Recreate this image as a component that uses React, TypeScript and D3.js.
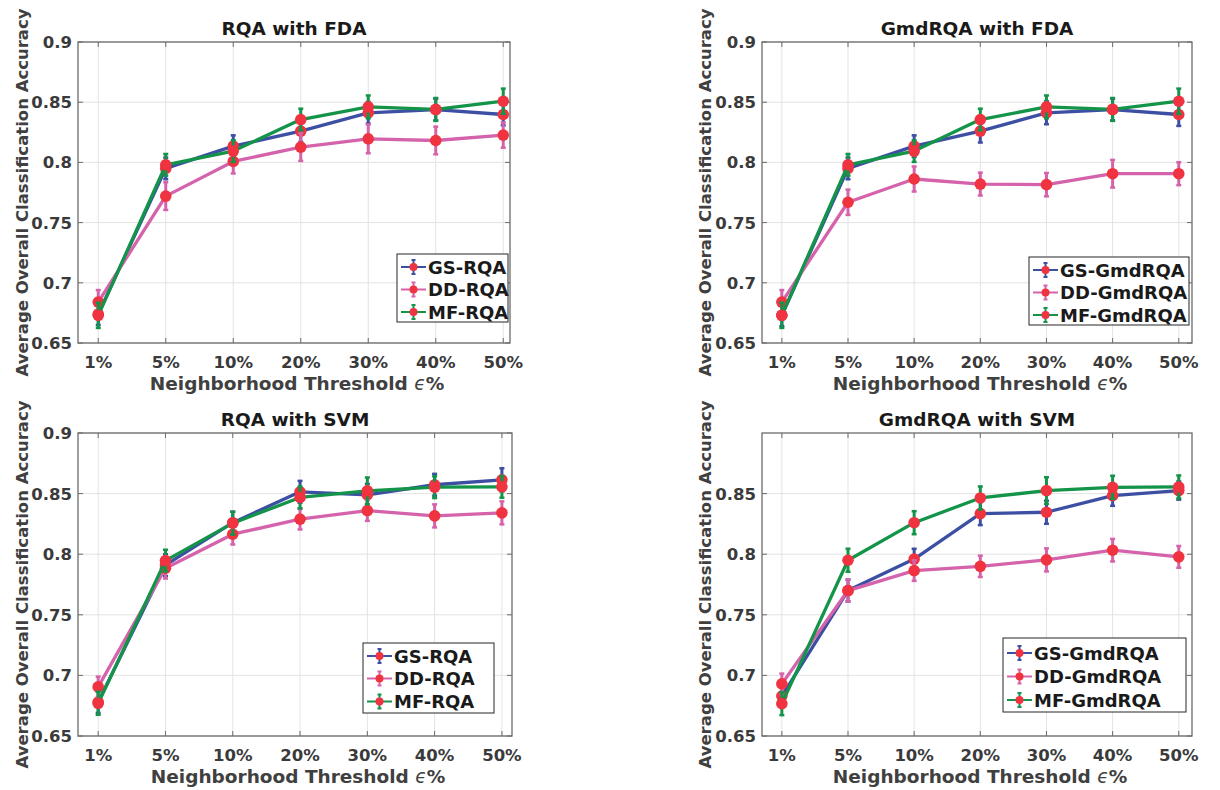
import React from "react";
import * as d3 from "d3";

const categories = ["1%", "5%", "10%", "20%", "30%", "40%", "50%"];

// Panel 1: RQA with FDA
const gsRqaFda = [0.674, 0.795, 0.8135, 0.826, 0.8412, 0.8439, 0.8398];
const ddRqaFda = [0.684, 0.772, 0.8008, 0.8127, 0.8196, 0.8182, 0.8227];
const mfRqaFda = [0.673, 0.798, 0.8094, 0.8356, 0.8461, 0.844, 0.8508];
const gsRqaFdaErr = [0.009, 0.009, 0.009, 0.009, 0.009, 0.009, 0.009];
const ddRqaFdaErr = [0.01, 0.0115, 0.01, 0.0115, 0.012, 0.0115, 0.0105];
const mfRqaFdaErr = [0.0105, 0.009, 0.009, 0.009, 0.0095, 0.0095, 0.0105];

// Panel 2: GmdRQA with FDA
const gsGmdFda = [0.673, 0.795, 0.8135, 0.826, 0.8412, 0.8439, 0.8398];
const ddGmdFda = [0.684, 0.7669, 0.7862, 0.782, 0.7815, 0.7906, 0.7906];
const mfGmdFda = [0.673, 0.798, 0.8094, 0.8356, 0.8461, 0.844, 0.8508];
const gsGmdFdaErr = [0.009, 0.009, 0.009, 0.0095, 0.0095, 0.009, 0.0095];
const ddGmdFdaErr = [0.01, 0.0105, 0.0104, 0.0095, 0.0097, 0.0115, 0.0095];
const mfGmdFdaErr = [0.0105, 0.009, 0.009, 0.009, 0.0095, 0.0095, 0.0105];

// Panel 3: RQA with SVM
const gsRqaSvm = [0.678, 0.791, 0.826, 0.8515, 0.849, 0.8573, 0.8614];
const ddRqaSvm = [0.6905, 0.7884, 0.8165, 0.8289, 0.836, 0.8316, 0.8341];
const mfRqaSvm = [0.677, 0.7947, 0.8256, 0.8468, 0.8523, 0.8553, 0.8556];
const gsRqaSvmErr = [0.009, 0.009, 0.009, 0.009, 0.009, 0.009, 0.0095];
const ddRqaSvmErr = [0.0085, 0.0085, 0.0085, 0.0085, 0.0085, 0.0095, 0.0095];
const mfRqaSvmErr = [0.0095, 0.009, 0.0095, 0.009, 0.011, 0.009, 0.009];

// Panel 4: GmdRQA with SVM
const gsGmdSvm = [0.683, 0.77, 0.796, 0.8335, 0.8346, 0.8484, 0.8525];
const ddGmdSvm = [0.693, 0.77, 0.7865, 0.79, 0.7953, 0.8033, 0.7978];
const mfGmdSvm = [0.6767, 0.795, 0.826, 0.8464, 0.8525, 0.8552, 0.8555];
const gsGmdSvmErr = [0.009, 0.009, 0.0085, 0.0095, 0.0095, 0.0085, 0.0075];
const ddGmdSvmErr = [0.0085, 0.009, 0.0085, 0.0088, 0.0095, 0.0093, 0.009];
const mfGmdSvmErr = [0.0095, 0.0095, 0.0095, 0.0095, 0.011, 0.0095, 0.0095];

const yTicksFull = [0.65, 0.7, 0.75, 0.8, 0.85, 0.9];
const yTicksNoTop = [0.65, 0.7, 0.75, 0.8, 0.85];

const BLUE = "#3c4fa3";
const PINK = "#d563ab";
const GREEN = "#139449";
const RED = "#ef3340";
const FONT = "'DejaVu Sans', sans-serif";

type Series = { name: string; color: string; values: number[]; err: number[] };

type Panel = {
  title: string;
  left: number;
  right: number;
  top: number;
  bottom: number;
  xDomain: [number, number];
  yTicks: number[];
  series: Series[];
  legend: { x: number; y: number; w: number; h: number; rows: number[] };
  ylabelX: number;
};

const panels: Panel[] = [
  {
    title: "RQA with FDA",
    left: 78, right: 510, top: 42, bottom: 343,
    xDomain: [-0.3, 6.1],
    yTicks: yTicksFull,
    series: [
      { name: "GS-RQA", color: BLUE, values: gsRqaFda, err: gsRqaFdaErr },
      { name: "DD-RQA", color: PINK, values: ddRqaFda, err: ddRqaFdaErr },
      { name: "MF-RQA", color: GREEN, values: mfRqaFda, err: mfRqaFdaErr },
    ],
    legend: { x: 397, y: 254, w: 111, h: 68, rows: [267, 289.5, 312] },
    ylabelX: 22,
  },
  {
    title: "GmdRQA with FDA",
    left: 762, right: 1192, top: 42, bottom: 343,
    xDomain: [-0.3, 6.2],
    yTicks: yTicksFull,
    series: [
      { name: "GS-GmdRQA", color: BLUE, values: gsGmdFda, err: gsGmdFdaErr },
      { name: "DD-GmdRQA", color: PINK, values: ddGmdFda, err: ddGmdFdaErr },
      { name: "MF-GmdRQA", color: GREEN, values: mfGmdFda, err: mfGmdFdaErr },
    ],
    legend: { x: 1029, y: 257, w: 160, h: 68, rows: [270, 292.5, 315] },
    ylabelX: 705,
  },
  {
    title: "RQA with SVM",
    left: 78, right: 512, top: 433, bottom: 736,
    xDomain: [-0.3, 6.15],
    yTicks: yTicksFull,
    series: [
      { name: "GS-RQA", color: BLUE, values: gsRqaSvm, err: gsRqaSvmErr },
      { name: "DD-RQA", color: PINK, values: ddRqaSvm, err: ddRqaSvmErr },
      { name: "MF-RQA", color: GREEN, values: mfRqaSvm, err: mfRqaSvmErr },
    ],
    legend: { x: 363, y: 643, w: 131, h: 70, rows: [656, 678.5, 701.5] },
    ylabelX: 22,
  },
  {
    title: "GmdRQA with SVM",
    left: 762, right: 1192, top: 433, bottom: 736,
    xDomain: [-0.3, 6.2],
    yTicks: yTicksNoTop,
    series: [
      { name: "GS-GmdRQA", color: BLUE, values: gsGmdSvm, err: gsGmdSvmErr },
      { name: "DD-GmdRQA", color: PINK, values: ddGmdSvm, err: ddGmdSvmErr },
      { name: "MF-GmdRQA", color: GREEN, values: mfGmdSvm, err: mfGmdSvmErr },
    ],
    legend: { x: 1003, y: 638, w: 183, h: 74, rows: [653, 676.5, 700] },
    ylabelX: 705,
  },
];

function PanelChart({ p }: { p: Panel }) {
  const x = d3.scaleLinear().domain(p.xDomain).range([p.left, p.right]);
  const y = d3.scaleLinear().domain([0.65, 0.9]).range([p.bottom, p.top]);
  const line = d3
    .line<number>()
    .x((_, i) => x(i))
    .y((v) => y(v));
  const cx = (p.left + p.right) / 2;
  const cy = (p.top + p.bottom) / 2;
  const tickLen = 5;
  const cap = 2.5;
  return (
    <g>
      {categories.map((_, i) => (
        <line key={"gx" + i} x1={x(i)} x2={x(i)} y1={p.top} y2={p.bottom} stroke="#e3e3e3" strokeWidth={1} />
      ))}
      {p.yTicks.map((t) => (
        <line key={"gy" + t} x1={p.left} x2={p.right} y1={y(t)} y2={y(t)} stroke="#e3e3e3" strokeWidth={1} />
      ))}
      <rect x={p.left} y={p.top} width={p.right - p.left} height={p.bottom - p.top} fill="none" stroke="#6b6b6b" strokeWidth={1.3} />
      {categories.map((_, i) => (
        <g key={"tx" + i}>
          <line x1={x(i)} x2={x(i)} y1={p.bottom} y2={p.bottom - tickLen} stroke="#6b6b6b" />
          <line x1={x(i)} x2={x(i)} y1={p.top} y2={p.top + tickLen} stroke="#6b6b6b" />
        </g>
      ))}
      {p.yTicks.map((t) => (
        <g key={"ty" + t}>
          <line x1={p.left} x2={p.left + tickLen} y1={y(t)} y2={y(t)} stroke="#6b6b6b" />
          <line x1={p.right} x2={p.right - tickLen} y1={y(t)} y2={y(t)} stroke="#6b6b6b" />
        </g>
      ))}
      {categories.map((c, i) => (
        <text key={"lx" + i} x={x(i)} y={p.bottom + 24.5} textAnchor="middle" fontFamily={FONT} fontWeight="bold" fontSize={16.5} fill="#3a3a3a">
          {c}
        </text>
      ))}
      {p.yTicks.map((t) => (
        <text key={"ly" + t} x={p.left - 6} y={y(t) + 6} textAnchor="end" fontFamily={FONT} fontWeight="bold" fontSize={16.5} fill="#3a3a3a">
          {d3.format("")(t)}
        </text>
      ))}
      <text x={cx} y={p.top - 7} textAnchor="middle" fontFamily={FONT} fontWeight="bold" fontSize={18.5} fill="#1a1a1a">
        {p.title}
      </text>
      <text x={cx + 3} y={p.bottom + 46.5} textAnchor="middle" fontFamily={FONT} fontWeight="bold" fontSize={18.5} fill="#404040">
        Neighborhood Threshold <tspan fontStyle="italic" fontWeight="normal">ϵ</tspan>%
      </text>
      <text
        transform={`translate(${p.ylabelX + 6},${cy}) rotate(-90)`}
        textAnchor="middle"
        fontFamily={FONT}
        fontWeight="bold"
        fontSize={16.5}
        fill="#404040"
      >
        Average Overall Classification Accuracy
      </text>
      {p.series.map((s) => (
        <g key={s.name}>
          {s.values.map((v, i) => (
            <g key={"e" + i}>
              <line x1={x(i)} x2={x(i)} y1={y(v - s.err[i])} y2={y(v + s.err[i])} stroke={s.color} strokeWidth={3} />
              <line x1={x(i) - cap} x2={x(i) + cap} y1={y(v - s.err[i])} y2={y(v - s.err[i])} stroke={s.color} strokeWidth={2.5} />
              <line x1={x(i) - cap} x2={x(i) + cap} y1={y(v + s.err[i])} y2={y(v + s.err[i])} stroke={s.color} strokeWidth={2.5} />
            </g>
          ))}
          <path d={line(s.values) || ""} fill="none" stroke={s.color} strokeWidth={3.3} strokeLinejoin="round" />
          {s.values.map((v, i) => (
            <circle key={"m" + i} cx={x(i)} cy={y(v)} r={5.8} fill={RED} />
          ))}
        </g>
      ))}
      <rect x={p.legend.x} y={p.legend.y} width={p.legend.w} height={p.legend.h} fill="#ffffff" stroke="#262626" strokeWidth={1} />
      {p.series.map((s, k) => {
        const ry = p.legend.rows[k];
        const lx0 = p.legend.x + 4;
        const lx1 = lx0 + 25;
        const lm = (lx0 + lx1) / 2;
        return (
          <g key={"lg" + k}>
            <line x1={lx0} x2={lx1} y1={ry} y2={ry} stroke={s.color} strokeWidth={2} />
            <line x1={lm} x2={lm} y1={ry - 7} y2={ry + 7} stroke={s.color} strokeWidth={2} />
            <line x1={lm - 2} x2={lm + 2} y1={ry - 7} y2={ry - 7} stroke={s.color} strokeWidth={2} />
            <line x1={lm - 2} x2={lm + 2} y1={ry + 7} y2={ry + 7} stroke={s.color} strokeWidth={2} />
            <circle cx={lm} cy={ry} r={4} fill={RED} />
            <text x={lx1 + 2} y={ry + 6.5} fontFamily={FONT} fontWeight="bold" fontSize={18} fill="#1a1a1a">
              {s.name}
            </text>
          </g>
        );
      })}
    </g>
  );
}

export default function App() {
  return (
    <svg width={1220} height={790} style={{ position: "absolute", left: 0, top: 0, background: "#fff" }}>
      <rect x={0} y={0} width={1220} height={790} fill="#ffffff" />
      {panels.map((p) => (
        <PanelChart key={p.title} p={p} />
      ))}
    </svg>
  );
}
